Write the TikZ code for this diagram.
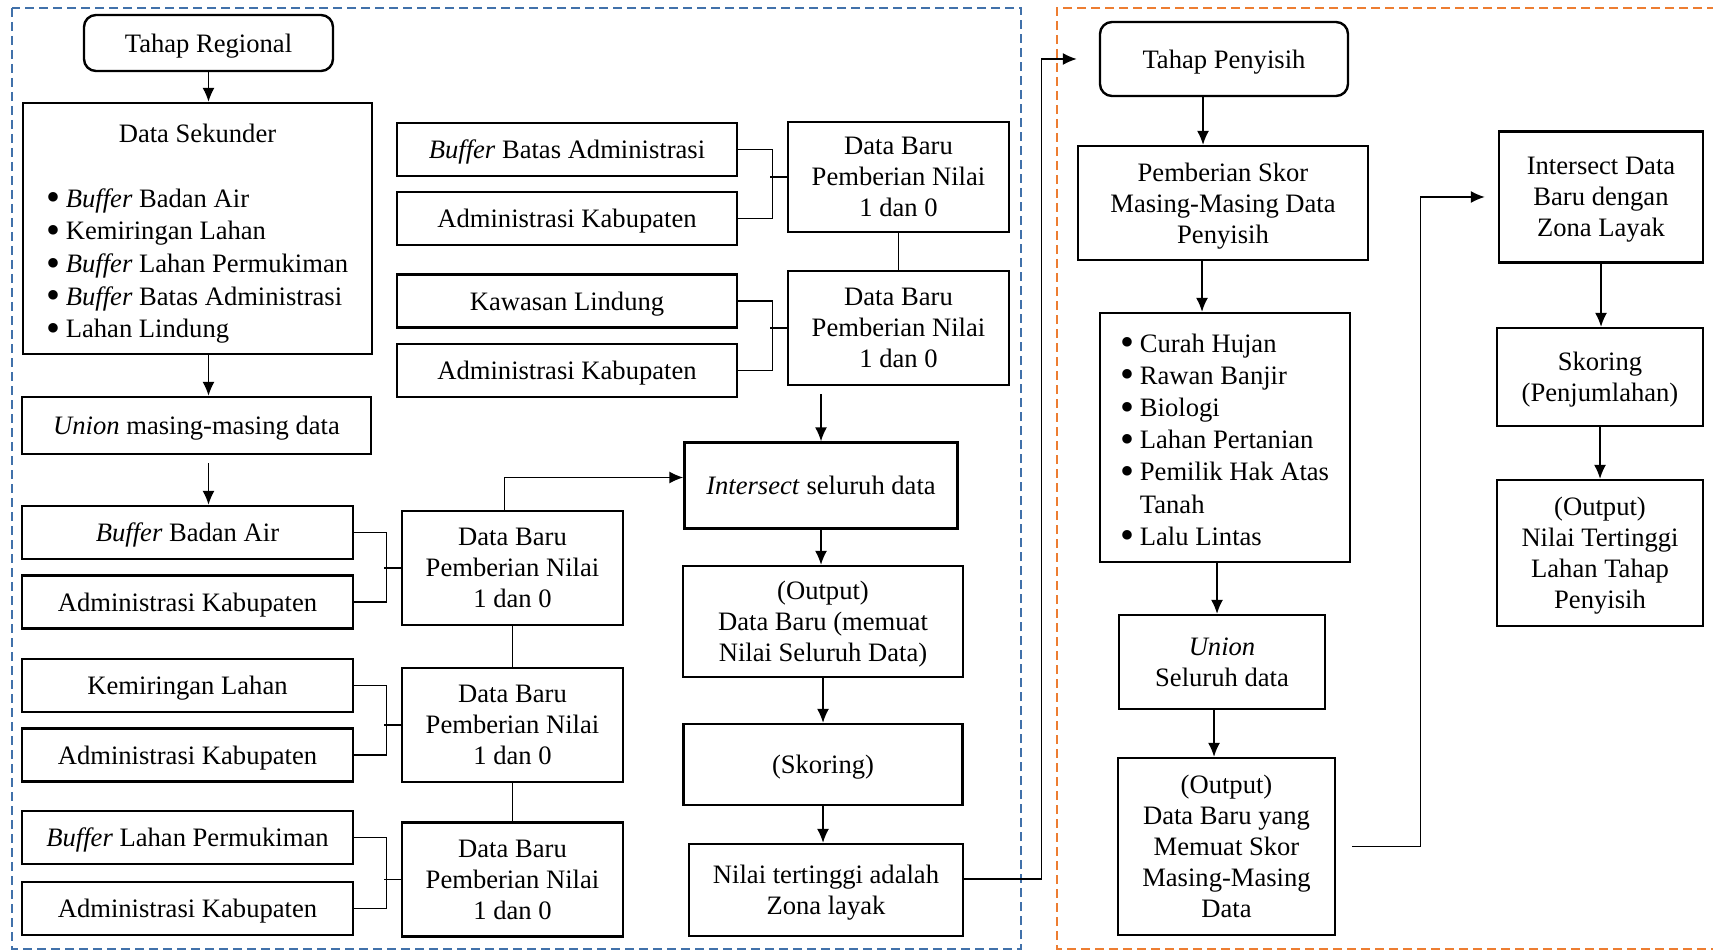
\documentclass[tikz,border=0pt]{standalone}
\usepackage{fontspec}
\setmainfont{Liberation Serif}
\usetikzlibrary{arrows.meta}
\definecolor{regblue}{RGB}{65,113,170}
\definecolor{penorange}{RGB}{237,125,49}
\newcommand{\blt}{\raisebox{-1.8pt}{\scalebox{1.5}{\textbullet}}}

\begin{document}
\begin{tikzpicture}[x=0.5pt,y=-0.5pt,
    every node/.style={font=\fontsize{13.3}{15.5}\selectfont,align=center,inner sep=2pt,text depth=0pt},
    box/.style={draw,line width=1.2pt},
    rbox/.style={box,rounded corners=6pt},
    inbox/.style={box,minimum width=165.5pt,minimum height=26.5pt},
    topbox/.style={box,minimum width=170pt,minimum height=26.5pt},
    nilaibox/.style={box,minimum width=110.5pt,minimum height=57pt},
    link/.style={line width=0.7pt},
    arr/.style={link,-{Latex[length=7pt,width=6pt]}},
    frame/.style={line width=1pt,dash pattern=on 4.5pt off 2.5pt}]
\useasboundingbox (0,0) rectangle (1713,952);
\draw[frame,regblue] (12,8) rectangle (1021,949);
\draw[frame,penorange] (1730,8) -- (1057,8) -- (1057,949) -- (1730,949);

\node[rbox,minimum width=124.5pt,minimum height=28pt] (tahapreg) at (208.5,43) {Tahap Regional};
\node[box,minimum width=174.5pt,minimum height=125.5pt,font=\fontsize{13.3}{16.3}\selectfont] (sekunder) at (197.5,228.5)
  {\begin{tabular}[b]{@{}l@{\hspace{2.5pt}}l@{}}
   \multicolumn{2}{@{}c@{}}{Data Sekunder}\\[16.3pt]
   \blt & \emph{Buffer} Badan Air\\
   \blt & Kemiringan Lahan\\
   \blt & \emph{Buffer} Lahan Permukiman\\
   \blt & \emph{Buffer} Batas Administrasi\\
   \blt & Lahan Lindung
   \end{tabular}};
\node[box,minimum width=174.5pt,minimum height=28.5pt] (unionA) at (196.5,425.5) {\emph{Union} masing-masing data};

\node[inbox] (badanair) at (187.5,532.5) {\emph{Buffer} Badan Air};
\node[inbox] (admA) at (187.5,602) {Administrasi Kabupaten};
\node[inbox] (kemiringan) at (187.5,685.5) {Kemiringan Lahan};
\node[inbox] (admB) at (187.5,755) {Administrasi Kabupaten};
\node[inbox] (permukiman) at (187.5,837.5) {\emph{Buffer} Lahan Permukiman};
\node[inbox] (admC) at (187.5,908.5) {Administrasi Kabupaten};
\node[nilaibox] (dbA) at (512.5,568) {Data Baru\\Pemberian Nilai\\1 dan 0};
\node[nilaibox] (dbB) at (512.5,725) {Data Baru\\Pemberian Nilai\\1 dan 0};
\node[nilaibox] (dbC) at (512.5,879.5) {Data Baru\\Pemberian Nilai\\1 dan 0};

\node[topbox] (batas) at (567,149.5) {\emph{Buffer} Batas Administrasi};
\node[topbox] (admD) at (567,218.5) {Administrasi Kabupaten};
\node[topbox] (kawasan) at (567,301) {Kawasan Lindung};
\node[topbox] (admE) at (567,370.5) {Administrasi Kabupaten};
\node[nilaibox,minimum height=55pt] (dbD) at (898.5,177) {Data Baru\\Pemberian Nilai\\1 dan 0};
\node[nilaibox] (dbE) at (898.5,328) {Data Baru\\Pemberian Nilai\\1 dan 0};

\node[box,minimum width=136.5pt,minimum height=43pt] (intersect) at (821,485.5) {\emph{Intersect} seluruh data};
\node[box,minimum width=140pt,minimum height=55.5pt] (outA) at (823,621.5) {(Output)\\Data Baru (memuat\\Nilai Seluruh Data)};
\node[box,minimum width=139.5pt,minimum height=40.5pt] (skorA) at (823,764.5) {(Skoring)};
\node[box,minimum width=137pt,minimum height=46pt] (nilai) at (826,890) {Nilai tertinggi adalah\\Zona layak};

\node[rbox,minimum width=124pt,minimum height=37pt] (tahappen) at (1224,59) {Tahap Penyisih};
\node[box,minimum width=145pt,minimum height=57pt] (pemberian) at (1223,203) {Pemberian Skor\\Masing-Masing Data\\Penyisih};
\node[box,minimum width=125pt,minimum height=124.5pt,font=\fontsize{13.3}{16.1}\selectfont] (kriteria) at (1225,437.5)
  {\begin{tabular}[b]{@{}l@{\hspace{2.5pt}}l@{}}
   \blt & Curah Hujan\\
   \blt & Rawan Banjir\\
   \blt & Biologi\\
   \blt & Lahan Pertanian\\
   \blt & Pemilik Hak Atas\\
        & Tanah\\
   \blt & Lalu Lintas
   \end{tabular}};
\node[box,minimum width=103pt,minimum height=47pt] (unionB) at (1222,662) {\emph{Union}\\Seluruh data};
\node[box,minimum width=108.5pt,minimum height=88.5pt] (outB) at (1226.5,846.5) {(Output)\\Data Baru yang\\Memuat Skor\\Masing-Masing\\Data};

\node[box,minimum width=102pt,minimum height=65.5pt] (intdata) at (1601,197) {Intersect Data\\Baru dengan\\Zona Layak};
\node[box,minimum width=103pt,minimum height=49pt] (skorB) at (1600,377) {Skoring\\(Penjumlahan)};
\node[box,minimum width=103pt,minimum height=73pt] (outC) at (1600,553) {(Output)\\Nilai Tertinggi\\Lahan Tahap\\Penyisih};

\draw[arr] (tahapreg.south) -- (tahapreg.south |- sekunder.north);
\draw[arr] (sekunder.south -| tahapreg) -- (unionA.north -| tahapreg);
\draw[arr] ([yshift=-4pt]unionA.south -| tahapreg) -- (badanair.north -| tahapreg);

\foreach \a/\b/\c/\d in {badanair/admA/dbA/32, kemiringan/admB/dbB/32,
    permukiman/admC/dbC/32, batas/admD/dbD/34, kawasan/admE/dbE/34} {
  \draw[link] (\a.east) -- ++(\d,0) |- (\b.east);
  \draw[link] (\c.west) -- ++(-17,0);
}
\draw[link] (dbA.south) -- (dbB.north);
\draw[link] (dbB.south) -- (dbC.north);
\draw[link] (dbD.south) -- (dbE.north);

\draw[arr] ([xshift=-4pt]dbA.north) |- ([yshift=4pt]intersect.west);
\draw[arr] ([yshift=-4pt]dbE.south -| intersect.north) -- (intersect.north);
\foreach \a/\b in {intersect/outA, outA/skorA, skorA/nilai, intdata/skorB, skorB/outC}
  \draw[arr] (\a.south) -- (\a.south |- \b.north);
\foreach \a/\b/\s in {tahappen/pemberian/-10.5, pemberian/kriteria/-10.5,
    kriteria/unionB/-4, unionB/outB/-4}
  \draw[arr] ([xshift=\s pt]\a.south) -- ([xshift=\s pt]\a.south |- \b.north);

\draw[arr,shorten >=11pt] ([yshift=5.5pt]nilai.east) -- ++(77,0) |- (tahappen.west);
\draw[arr,shorten <=8pt,shorten >=6.5pt] (outB.east) -- ++(84,0) |- (intdata.west);
\end{tikzpicture}
\end{document}
